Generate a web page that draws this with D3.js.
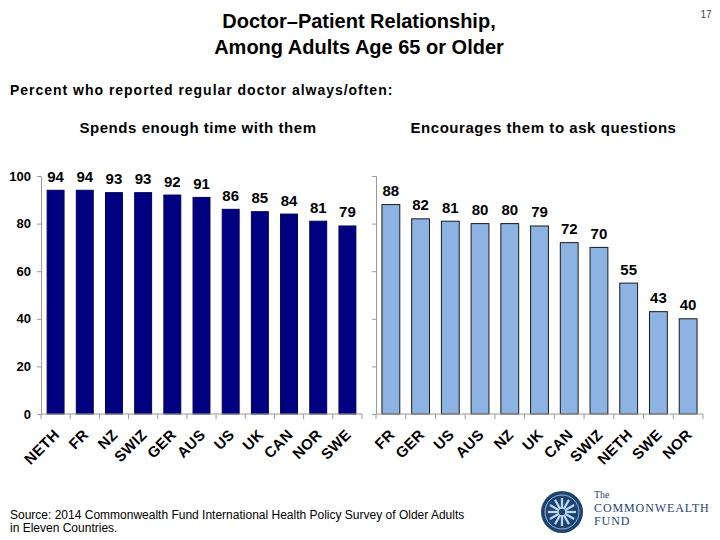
<!DOCTYPE html>
<html><head><meta charset="utf-8">
<script src="https://cdn.jsdelivr.net/npm/d3@7"></script>
<style>body{margin:0;background:#fff}svg{display:block}</style>
</head><body>
<script>
const leftCats = ["NETH","FR","NZ","SWIZ","GER","AUS","US","UK","CAN","NOR","SWE"];
const leftVals = [94,94,93,93,92,91,86,85,84,81,79];
const rightCats = ["FR","GER","US","AUS","NZ","UK","CAN","SWIZ","NETH","SWE","NOR"];
const rightVals = [88,82,81,80,80,79,72,70,55,43,40];
const yTicks = [0,20,40,60,80,100];
const titleLines = ["Doctor\u2013Patient Relationship,","Among Adults Age 65 or Older"];
const subtitle = "Percent who reported regular doctor always/often:";
const panelTitles = ["Spends enough time with them","Encourages them to ask questions"];
const sourceLines = ["Source: 2014 Commonwealth Fund International Health Policy Survey of Older Adults","in Eleven Countries."];

const W=720,H=540;
const svg=d3.select("body").append("svg").attr("width",W).attr("height",H);
const font="Arial, 'Liberation Sans', Helvetica, sans-serif";

svg.append("text").attr("x",706).attr("y",18).attr("text-anchor","middle")
  .attr("font-family",font).attr("font-size",10).attr("fill","#444").text("17");
titleLines.forEach((t,i)=>svg.append("text").attr("x",359).attr("y",28+i*26)
  .attr("text-anchor","middle").attr("font-family",font).attr("font-weight","bold")
  .attr("font-size",20).attr("fill","#000").text(t));
svg.append("text").attr("x",10).attr("y",94.5).attr("font-family",font).attr("font-weight","bold")
  .attr("font-size",14).attr("letter-spacing",0.98).attr("fill","#000").text(subtitle);
const ptX=[198,543.5];
panelTitles.forEach((t,i)=>svg.append("text").attr("x",ptX[i]).attr("y",132.5)
  .attr("text-anchor","middle").attr("font-family",font).attr("font-weight","bold")
  .attr("font-size",15).attr("letter-spacing",0.55).attr("fill","#000").text(t));

const y=d3.scaleLinear().domain([0,100]).range([414,176]);

function panel(cats,vals,x0,x1,pad,fill,stroke,showLabels){
  const x=d3.scaleBand().domain(cats).range([x0,x1]).paddingInner(pad).paddingOuter(pad/2);
  const g=svg.append("g");
  const ya=d3.axisLeft(y).tickValues(yTicks).tickSize(4).tickPadding(6)
    .tickFormat(showLabels?d3.format("d"):()=>"");
  const yg=g.append("g").attr("transform",`translate(${x0},0)`).call(ya);
  yg.select(".domain").attr("stroke","#9a9a9a");
  yg.selectAll(".tick line").attr("stroke","#9a9a9a");
  yg.selectAll(".tick text").attr("font-family",font).attr("font-weight","bold")
    .attr("font-size",13).attr("fill","#000");
  g.selectAll("rect.bar").data(cats).enter().append("rect").attr("class","bar")
    .attr("x",d=>x(d)).attr("width",x.bandwidth())
    .attr("y",(d,i)=>y(vals[i])).attr("height",(d,i)=>y(0)-y(vals[i]))
    .attr("fill",fill).attr("stroke",stroke).attr("stroke-width",1);
  g.selectAll("text.val").data(cats).enter().append("text").attr("class","val")
    .attr("x",d=>x(d)+x.bandwidth()/2).attr("y",(d,i)=>y(vals[i])-8.5)
    .attr("text-anchor","middle").attr("font-family",font).attr("font-weight","bold")
    .attr("font-size",15).attr("fill","#000").text((d,i)=>vals[i]);
  g.append("line").attr("x1",x0).attr("x2",x1).attr("y1",y(0)).attr("y2",y(0)).attr("stroke","#9a9a9a");
  const bounds=d3.range(cats.length+1).map(i=>x0+i*(x1-x0)/cats.length);
  g.selectAll("line.xt").data(bounds).enter().append("line").attr("class","xt")
    .attr("x1",d=>d).attr("x2",d=>d).attr("y1",y(0)).attr("y2",y(0)+5).attr("stroke","#9a9a9a");
  g.selectAll("text.cat").data(cats).enter().append("text").attr("class","cat")
    .attr("transform",d=>`translate(${x(d)+x.bandwidth()/2+1},${y(0)+18}) rotate(-45)`)
    .attr("text-anchor","end").attr("dy","0.35em").attr("font-family",font).attr("font-weight","bold")
    .attr("font-size",15).attr("letter-spacing",0.3).attr("fill","#000").text(d=>d);
}
panel(leftCats,leftVals,41,362,0.42,"#000080","#00005a",true);
panel(rightCats,rightVals,376,703,0.4,"#8db3e2","#1a1a1a",false);

sourceLines.forEach((t,i)=>svg.append("text").attr("x",10).attr("y",518.5+i*13)
  .attr("font-family",font).attr("font-size",12).attr("fill","#000").text(t));

// logo
const lg=svg.append("g").attr("transform","translate(562,512)");
lg.append("circle").attr("r",21).attr("fill","#1d4470");
lg.append("circle").attr("r",17).attr("fill","none").attr("stroke","#bcd0e6").attr("stroke-width",0.8);
d3.range(12).forEach(i=>{
  const a=i*Math.PI/6;
  lg.append("line").attr("x1",0).attr("y1",0).attr("x2",14*Math.cos(a)).attr("y2",14*Math.sin(a))
    .attr("stroke","#bcd6ee").attr("stroke-width",2.2);
});
lg.append("circle").attr("r",4).attr("fill","#1d4470").attr("stroke","#bcd6ee").attr("stroke-width",1.5);
const lt=[["The",498,10,0],["COMMONWEALTH",511.5,12,0.9],["FUND",525,12,0.9]];
lt.forEach(d=>svg.append("text").attr("x",594).attr("y",d[1]).attr("font-family","'Liberation Serif','DejaVu Serif',serif")
  .attr("font-size",d[2]).attr("letter-spacing",d[3]).attr("fill","#1d4470").text(d[0]));
</script>
</body></html>
